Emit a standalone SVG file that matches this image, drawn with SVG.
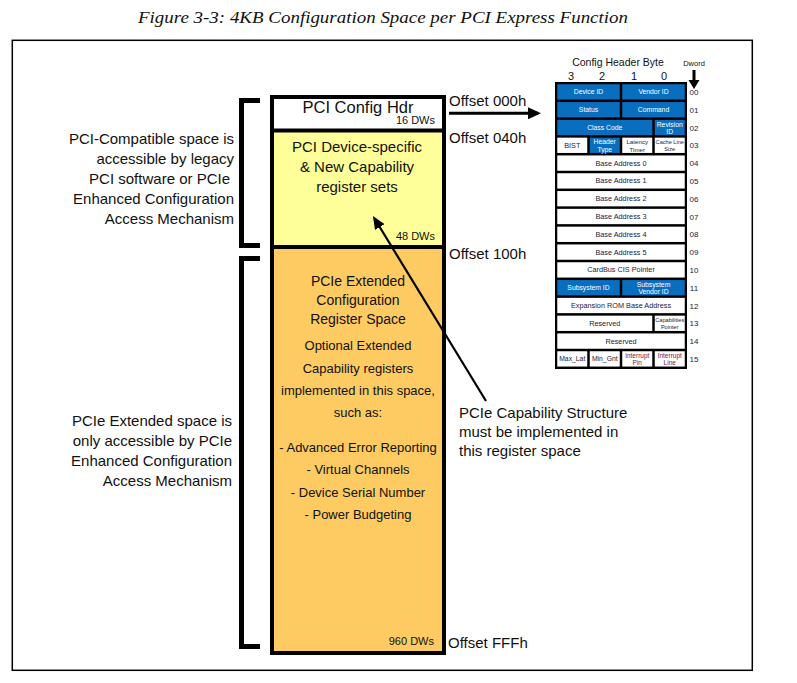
<svg xmlns="http://www.w3.org/2000/svg" width="797" height="683" viewBox="0 0 797 683">
<style>
text{font-family:"Liberation Sans",Arial,sans-serif;fill:#111}
.t15{font-size:15px}
.c{text-anchor:middle}
.e{text-anchor:end}
.box{stroke:#000;stroke-width:4}
.brk{fill:none;stroke:#000;stroke-width:5}
.cell{stroke:none}
.w{fill:#fff}
.b{fill:#0A6EBE}
.tw{font-size:7.3px;text-anchor:middle;fill:#1a1a3a}
.tb{font-size:6.8px;text-anchor:middle;fill:#fff}
.ts{font-size:5.6px;text-anchor:middle;fill:#1a1a3a}
.tr{font-size:6.5px;text-anchor:middle;fill:#80103a}
.dw{font-size:8px;text-anchor:middle;fill:#1a1a3a}
</style>
<defs>
<marker id="ah" markerUnits="userSpaceOnUse" markerWidth="13" markerHeight="12" refX="10" refY="6" orient="auto"><path d="M0,0 L13,6 L0,12 z" fill="#000"/></marker>
<marker id="ah2" markerUnits="userSpaceOnUse" markerWidth="13" markerHeight="11" refX="10" refY="5.5" orient="auto"><path d="M0,0 L13,5.5 L0,11 z" fill="#000"/></marker>
</defs>
<rect width="797" height="683" fill="#fff"/>
<text x="383" y="23" class="c" style="font-family:'Liberation Serif',serif;font-style:italic;font-size:17.5px" textLength="490" lengthAdjust="spacingAndGlyphs">Figure 3-3: 4KB Configuration Space per PCI Express Function</text>
<rect x="12.3" y="40.3" width="740" height="630" fill="none" stroke="#000" stroke-width="1.5"/>

<g id="config-space">
<rect x="272" y="97" width="172" height="33.5" fill="#fff"/>
<rect x="272" y="130.5" width="172" height="116.5" fill="#FFFF99"/>
<rect x="272" y="247" width="172" height="406" fill="#FDCB62"/>
<rect x="272" y="97" width="172" height="556" fill="none" class="box"/>
<line x1="272" y1="130.5" x2="444" y2="130.5" class="box"/>
<line x1="272" y1="247" x2="444" y2="247" class="box"/>
</g>
<g id="pci-config-hdr">
<text x="358" y="113" class="c" style="font-size:16.5px">PCI Config Hdr</text>
<text x="435" y="124" class="e" style="font-size:11px">16 DWs</text>
</g>
<g id="device-specific">
<text x="357" y="152" class="c t15">PCI Device-specific</text>
<text x="357" y="172" class="c t15">&amp; New Capability</text>
<text x="357" y="192" class="c t15">register sets</text>
<text x="435" y="240" class="e" style="font-size:11px">48 DWs</text>
</g>
<g id="extended-space">
<text x="358" y="286" class="c" style="font-size:14px">PCIe Extended</text>
<text x="358" y="305" class="c" style="font-size:14px">Configuration</text>
<text x="358" y="324" class="c" style="font-size:14px">Register Space</text>
<text x="358" y="350" class="c" style="font-size:13px">Optional Extended</text>
<text x="358" y="373" class="c" style="font-size:13px">Capability registers</text>
<text x="358" y="395" class="c" style="font-size:13px">implemented in this space,</text>
<text x="358" y="417" class="c" style="font-size:13px">such as:</text>
<text x="358" y="452" class="c" style="font-size:13px">- Advanced Error Reporting</text>
<text x="358" y="474" class="c" style="font-size:13px">- Virtual Channels</text>
<text x="358" y="497" class="c" style="font-size:13px">- Device Serial Number</text>
<text x="358" y="519" class="c" style="font-size:13px">- Power Budgeting</text>
<text x="434" y="645" class="e" style="font-size:11px">960 DWs</text>
</g>
<g id="offsets">
<text x="449" y="106" class="t15">Offset 000h</text>
<text x="449" y="143" class="t15">Offset 040h</text>
<text x="449" y="259" class="t15">Offset 100h</text>
<text x="448" y="648" class="t15">Offset FFFh</text>
</g>
<g id="left-labels">
<path d="M260,100.5 H241.5 V245.5 H260" class="brk"/>
<path d="M260,258.5 H241.5 V646.5 H260" class="brk"/>
<text x="234" y="144" class="e t15">PCI-Compatible space is</text>
<text x="234" y="164" class="e t15">accessible by legacy</text>
<text x="230" y="184" class="e t15">PCI software or PCIe</text>
<text x="234" y="204" class="e t15">Enhanced Configuration</text>
<text x="234" y="224" class="e t15">Access Mechanism</text>
<text x="232" y="426" class="e t15">PCIe Extended space is</text>
<text x="232" y="446" class="e t15">only accessible by PCIe</text>
<text x="232" y="466" class="e t15">Enhanced Configuration</text>
<text x="232" y="486" class="e t15">Access Mechanism</text>
</g>
<g id="capability-note">
<text x="459" y="418" class="t15">PCIe Capability Structure</text>
<text x="459" y="437" class="t15">must be implemented in</text>
<text x="459" y="456" class="t15">this register space</text>
</g>
<g id="connectors">
<line x1="449" y1="113.3" x2="538" y2="113.3" stroke="#000" stroke-width="3" marker-end="url(#ah)"/>
<line x1="486" y1="401" x2="374.5" y2="218.5" stroke="#000" stroke-width="2.2" marker-end="url(#ah2)"/>
</g>

<g id="config-header">
<text x="618" y="66" style="font-size:10.5px" class="c">Config Header Byte</text>
<text x="571" y="80" style="font-size:11px" class="c">3</text>
<text x="602" y="80" style="font-size:11px" class="c">2</text>
<text x="634" y="80" style="font-size:11px" class="c">1</text>
<text x="664" y="80" style="font-size:11px" class="c">0</text>
<text x="694" y="66" style="font-size:7.5px" class="c">Dword</text>
<path d="M692.5,70 H695.5 V80 H699.5 L694,89 L688.5,80 H692.5 Z" fill="#000"/>
<rect x="555" y="82" width="132" height="287" fill="#000"/>
<!-- row 00 y=83 -->
<rect class="b" x="557.25" y="84.25" width="62.5" height="15.3"/>
<rect class="b" x="622.25" y="84.25" width="62.5" height="15.3"/>
<text class="tb" x="588.5" y="94.4">Device ID</text>
<text class="tb" x="653.5" y="94.4">Vendor ID</text>
<!-- row 01 y=100.8 -->
<rect class="b" x="557.25" y="102.05" width="62.5" height="15.3"/>
<rect class="b" x="622.25" y="102.05" width="62.5" height="15.3"/>
<text class="tb" x="588.5" y="112.2">Status</text>
<text class="tb" x="653.5" y="112.2">Command</text>
<!-- row 02 y=118.6 -->
<rect class="b" x="557.25" y="119.85" width="95" height="15.3"/>
<rect class="b" x="654.75" y="119.85" width="30" height="15.3"/>
<text class="tb" x="604.75" y="130">Class Code</text>
<text class="tb" x="669.75" y="126.5">Revision</text>
<text class="tb" x="669.75" y="134">ID</text>
<!-- row 03 y=136.4 -->
<rect class="w" x="557.25" y="137.65" width="30" height="15.3"/>
<rect class="b" x="589.75" y="137.65" width="30" height="15.3"/>
<rect class="w" x="622.25" y="137.65" width="30" height="15.3"/>
<rect class="w" x="654.75" y="137.65" width="30" height="15.3"/>
<text class="tw" x="572.25" y="147.8">BIST</text>
<text class="tb" x="604.75" y="144.2">Header</text>
<text class="tb" x="604.75" y="152">Type</text>
<text class="ts" style="font-size:6.2px" x="637.25" y="144">Latency</text>
<text class="ts" style="font-size:6.2px" x="637.25" y="151.6">Timer</text>
<text class="ts" x="669.75" y="143.6">Cache Line</text>
<text class="ts" x="669.75" y="150.8">Size</text>
<!-- rows 04-09 -->
<rect class="w" x="557.25" y="155.45" width="127.5" height="15.3"/>
<rect class="w" x="557.25" y="173.25" width="127.5" height="15.3"/>
<rect class="w" x="557.25" y="191.05" width="127.5" height="15.3"/>
<rect class="w" x="557.25" y="208.85" width="127.5" height="15.3"/>
<rect class="w" x="557.25" y="226.65" width="127.5" height="15.3"/>
<rect class="w" x="557.25" y="244.45" width="127.5" height="15.3"/>
<text class="tw" x="621" y="165.6">Base Address 0</text>
<text class="tw" x="621" y="183.4">Base Address 1</text>
<text class="tw" x="621" y="201.2">Base Address 2</text>
<text class="tw" x="621" y="219">Base Address 3</text>
<text class="tw" x="621" y="236.8">Base Address 4</text>
<text class="tw" x="621" y="254.6">Base Address 5</text>
<!-- row 10 y=261 -->
<rect class="w" x="557.25" y="262.25" width="127.5" height="15.3"/>
<text class="tw" x="621" y="272.4">CardBus CIS Pointer</text>
<!-- row 11 y=278.8 -->
<rect class="b" x="557.25" y="280.05" width="62.5" height="15.3"/>
<rect class="b" x="622.25" y="280.05" width="62.5" height="15.3"/>
<text class="tb" x="588.5" y="290.2">Subsystem ID</text>
<text class="tb" x="653.5" y="286.6">Subsystem</text>
<text class="tb" x="653.5" y="294.2">Vendor ID</text>
<!-- row 12 y=296.6 -->
<rect class="w" x="557.25" y="297.85" width="127.5" height="15.3"/>
<text class="tw" x="621" y="308">Expansion ROM Base Address</text>
<!-- row 13 y=314.4 -->
<rect class="w" x="557.25" y="315.65" width="95" height="15.3"/>
<rect class="w" x="654.75" y="315.65" width="30" height="15.3"/>
<text class="tw" x="604.75" y="325.8">Reserved</text>
<text class="ts" x="669.75" y="321.6">Capabilities</text>
<text class="ts" x="669.75" y="328.6">Pointer</text>
<!-- row 14 y=332.2 -->
<rect class="w" x="557.25" y="333.45" width="127.5" height="15.3"/>
<text class="tw" x="621" y="343.6">Reserved</text>
<!-- row 15 y=350 -->
<rect class="w" x="557.25" y="351.25" width="30" height="15.3"/>
<rect class="w" x="589.75" y="351.25" width="30" height="15.3"/>
<rect class="w" x="622.25" y="351.25" width="30" height="15.3"/>
<rect class="w" x="654.75" y="351.25" width="30" height="15.3"/>
<text class="tw" style="font-size:6.8px" x="572.25" y="361.3">Max_Lat</text>
<text class="tw" style="font-size:6.8px" x="604.75" y="361.3">Min_Gnt</text>
<text class="tr" x="637.25" y="357.6">Interrupt</text>
<text class="tr" x="637.25" y="365.4">Pin</text>
<text class="tr" x="669.75" y="357.6">Interrupt</text>
<text class="tr" x="669.75" y="365.4">Line</text>
<!-- dword numbers -->
<text class="dw" x="694" y="94.9">00</text>
<text class="dw" x="694" y="112.7">01</text>
<text class="dw" x="694" y="130.5">02</text>
<text class="dw" x="694" y="148.3">03</text>
<text class="dw" x="694" y="166.1">04</text>
<text class="dw" x="694" y="183.9">05</text>
<text class="dw" x="694" y="201.7">06</text>
<text class="dw" x="694" y="219.5">07</text>
<text class="dw" x="694" y="237.3">08</text>
<text class="dw" x="694" y="255.1">09</text>
<text class="dw" x="694" y="272.9">10</text>
<text class="dw" x="694" y="290.7">11</text>
<text class="dw" x="694" y="308.5">12</text>
<text class="dw" x="694" y="326.3">13</text>
<text class="dw" x="694" y="344.1">14</text>
<text class="dw" x="694" y="361.9">15</text>
</g>
</svg>
